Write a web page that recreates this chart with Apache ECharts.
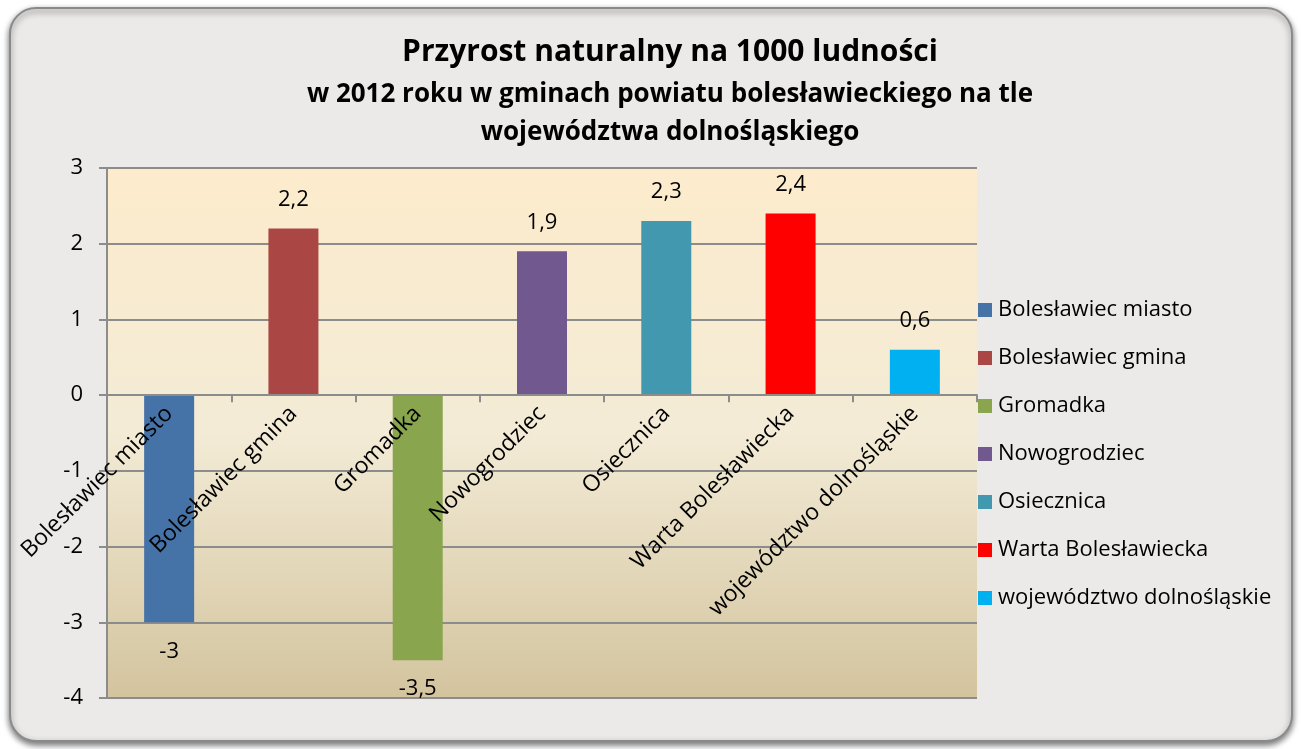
<!DOCTYPE html>
<html>
<head>
<meta charset="utf-8">
<script src="https://cdn.jsdelivr.net/npm/echarts@6/dist/echarts.min.js"></script>
<style>
  html, body { margin: 0; padding: 0; background: #ffffff; }
  #chart { width: 1301px; height: 749px; }
</style>
</head>
<body>
<div id="chart"></div>
<script>
// gminy + województwo
var categories = ['Bolesławiec miasto', 'Bolesławiec gmina', 'Gromadka', 'Nowogrodziec',
  'Osiecznica', 'Warta Bolesławiecka', 'województwo dolnośląskie']
// przyrost naturalny na 1000 ludności
var values = [-3, 2.2, -3.5, 1.9, 2.3, 2.4, 0.6]
var colors = ['#4572A7', '#AA4643', '#89A54E', '#71588F', '#4198AF', '#FF0000', '#00B0F0']
var yTicks = [-4, -3, -2, -1, 0, 1, 2, 3]

var font = '"Open Sans", "Noto Sans", sans-serif'

var gridTop = 168
var gridBottom = 51
var plotH = 749 - gridTop - gridBottom
var yMin = yTicks[0]
var yMax = yTicks[yTicks.length - 1]
// x axis sits on the zero line
var zeroOffset = -plotH * (0 - yMin) / (yMax - yMin)

function fmt (v) {
  return String(v).replace('.', ',')
}

// one series per gmina so the legend lists them all
var series = categories.map(function (name, i) {
  var data = categories.map(function (c, j) {
    if (j !== i) return '-'
    return {
      value: values[i],
      label: { position: values[i] < 0 ? 'bottom' : 'top' }
    }
  })
  return {
    name: name,
    type: 'bar',
    barWidth: 50,
    barGap: '-100%',
    itemStyle: { color: colors[i] },
    label: {
      show: true,
      distance: 18,
      color: '#000',
      fontFamily: font,
      fontSize: 22,
      formatter: function (p) { return fmt(p.value) }
    },
    data: data
  }
})

var chart = echarts.init(document.getElementById('chart'))
chart.setOption({
  animation: false,
  graphic: [{
    type: 'rect',
    z: -10,
    shape: { x: 10, y: 8, width: 1282, height: 733, r: 26 },
    style: {
      fill: '#EBEAE8',
      stroke: '#8a8a8a',
      lineWidth: 2,
      shadowBlur: 6,
      shadowOffsetY: 3,
      shadowColor: 'rgba(0,0,0,0.55)'
    }
  }],
  title: [{
    text: 'Przyrost naturalny na 1000 ludności',
    left: 665,
    top: 32,
    textAlign: 'center',
    textStyle: { fontFamily: font, fontSize: 30, fontWeight: 'bold', color: '#000' }
  }, {
    text: 'w 2012 roku w gminach powiatu bolesławieckiego na tle\nwojewództwa dolnośląskiego',
    left: 665,
    top: 71,
    textAlign: 'center',
    textStyle: { fontFamily: font, fontSize: 26, fontWeight: 'bold', color: '#000', lineHeight: 38 }
  }],
  legend: {
    orient: 'vertical',
    left: 973,
    top: 294,
    itemWidth: 14,
    itemHeight: 14,
    itemGap: 26,
    icon: 'rect',
    textStyle: { fontFamily: font, fontSize: 22, color: '#000', padding: [0, 0, 0, 1] },
    data: categories
  },
  grid: {
    left: 107,
    right: 324,
    top: gridTop,
    bottom: gridBottom,
    outerBoundsMode: 'none',
    containLabel: false,
    show: true,
    borderWidth: 0,
    backgroundColor: new echarts.graphic.LinearGradient(0, 0, 0, 1, [
      { offset: 0, color: '#FDEBCC' },
      { offset: 0.5, color: '#F3EBD6' },
      { offset: 1, color: '#D3C49E' }
    ])
  },
  xAxis: {
    type: 'category',
    data: categories,
    offset: zeroOffset,
    z: 10,
    axisLine: { onZero: false, lineStyle: { color: '#8c8c8c', width: 2 } },
    axisTick: { show: true, length: 7, lineStyle: { color: '#8c8c8c', width: 2 } },
    axisLabel: {
      rotate: 45,
      margin: 15,
      interval: 0,
      color: '#000',
      fontFamily: font,
      fontSize: 23
    }
  },
  yAxis: {
    type: 'value',
    min: yMin,
    max: yMax,
    interval: 1,
    axisLine: { show: true, lineStyle: { color: '#8c8c8c', width: 2 } },
    axisTick: { show: true, length: 8, lineStyle: { color: '#8c8c8c', width: 2 } },
    splitLine: { show: true, lineStyle: { color: '#8c8c8c', width: 2 } },
    axisLabel: {
      margin: 24,
      color: '#000',
      fontFamily: font,
      fontSize: 22,
      formatter: function (v) { return fmt(v) }
    }
  },
  series: series
})
</script>
</body>
</html>
